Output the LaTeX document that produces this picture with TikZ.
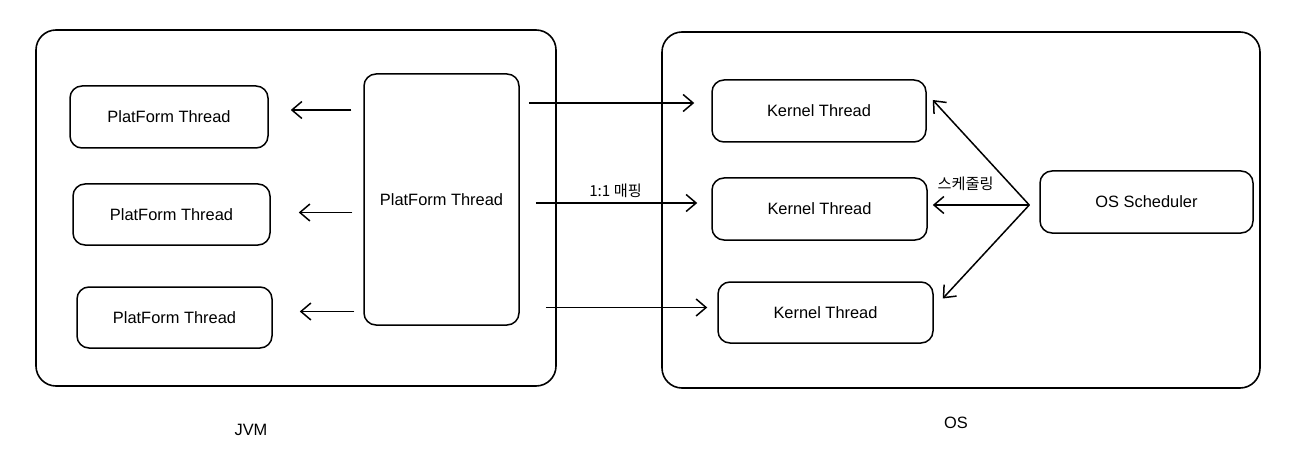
\documentclass[tikz,border=0pt]{standalone}
\usepackage{fontspec}
\setmainfont{Liberation Sans}
\newfontfamily\krfont{Noto Sans CJK KR}
\usetikzlibrary{arrows.meta, positioning, calc}

\begin{document}
\begin{tikzpicture}[
      x=1pt, y=-1pt,
      font=\fontsize{16.4}{19}\selectfont,
      area/.style={rectangle, draw, line width=1.6pt, rounded corners=20pt},
      thread/.style={rectangle, draw, line width=1.5pt, rounded corners=12pt, align=center},
      arrow/.style={-{Straight Barb[length=10pt, width=17pt]}, line width=1.5pt},
      lbl/.style={font=\krfont\fontsize{15.2}{17}\selectfont}
    ]
    \useasboundingbox (0,0) rectangle (1289,457);

    % JVM side
    \node[area, minimum width=520pt, minimum height=356pt] (jvm) at (296,208) {};
    \node[thread, minimum width=198pt, minimum height=62pt] (pt1) at (169,117) {PlatForm Thread};
    \node[thread, minimum width=197pt, minimum height=61pt] (pt2) at (171.5,214.5) {PlatForm Thread};
    \node[thread, minimum width=195pt, minimum height=61pt] (pt3) at (174.5,317.5) {PlatForm Thread};
    \node[thread, minimum width=155pt, minimum height=251pt] (main) at (441.5,199.5) {PlatForm Thread};
    \node (jvmlbl) at (251,430) {JVM};

    % OS side
    \node[area, minimum width=598pt, minimum height=356pt] (os) at (961,210) {};
    \node[thread, minimum width=214pt, minimum height=62pt] (k1) at (819,111) {Kernel Thread};
    \node[thread, minimum width=215pt, minimum height=62pt] (k2) at (819.5,209) {Kernel Thread};
    \node[thread, minimum width=215pt, minimum height=61pt] (k3) at (825.5,312.5) {Kernel Thread};
    \node[thread, minimum width=213pt, minimum height=62pt] (sched) at (1146.5,202) {OS Scheduler};
    \node (oslbl) at (956,423) {OS};

    \draw[arrow, shorten <=12pt, shorten >=22pt] ($(main.west |- pt1.east)+(0,-7)$) -- ($(pt1.east)+(0,-7)$);
    \draw[arrow, shorten <=11pt, shorten >=28pt] ($(main.west |- pt2.east)+(0,-2)$) -- ($(pt2.east)+(0,-2)$);
    \draw[arrow, shorten <=9pt, shorten >=27pt] ($(main.west |- pt3.east)+(0,-6)$) -- ($(pt3.east)+(0,-6)$);

    \draw[arrow, shorten <=9pt, shorten >=17pt] ($(main.east |- k1.west)+(0,-8)$) -- ($(k1.west)+(0,-8)$);
    \draw[arrow, shorten <=16pt, shorten >=14pt] ($(main.east |- k2.west)+(0,-6)$)
      -- node[above, lbl, pos=0.5, yshift=1pt] {1:1 매핑} ($(k2.west)+(0,-6)$);
    \draw[arrow, shorten <=26pt, shorten >=10pt] ($(main.east |- k3.west)+(0,-5)$) -- ($(k3.west)+(0,-5)$);

    \coordinate (fork) at ($(sched.west)+(-10,3)$);
    \draw[arrow] (fork) -- ($(k1.east)+(6,-11)$);
    \draw[arrow] (fork) -- node[above, lbl, pos=0.66, yshift=10pt] {스케줄링} ($(k2.east)+(5,-4)$);
    \draw[arrow] (fork) -- ($(k3.east)+(9,-14)$);
  \end{tikzpicture}
\end{document}
